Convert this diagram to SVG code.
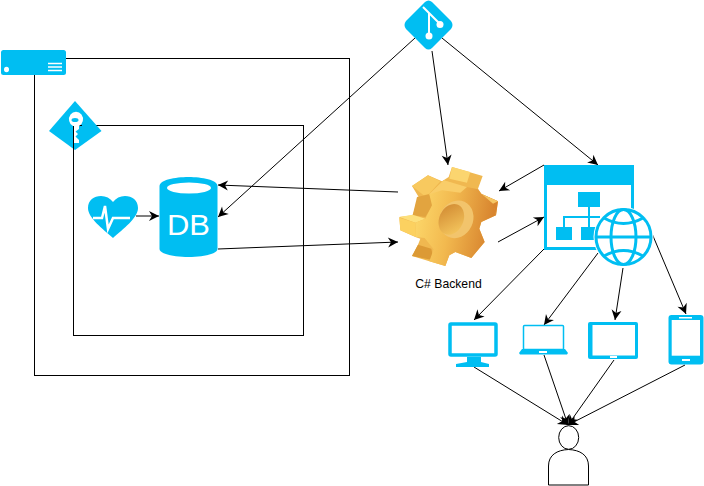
<svg xmlns="http://www.w3.org/2000/svg" width="704" height="486" viewBox="0 0 704 486">
<style>
.box{fill:none;stroke:#000;stroke-width:1}
.ic{fill:#00bef2}
.w{fill:#fff}
.wl{fill:none;stroke:#fff}
.gl{fill:none;stroke:#00bef2}
.c{fill:none;stroke:#000;stroke-width:1;marker-end:url(#a)}
text{font-family:"Liberation Sans",Arial,sans-serif}
</style>
<defs>
<marker id="a" markerUnits="userSpaceOnUse" markerWidth="14" markerHeight="12" refX="10" refY="5" orient="auto" viewBox="0 0 14 10" overflow="visible">
<path d="M0 0L10 5L0 10L3 5Z" fill="#000"/>
</marker>
<linearGradient id="gf" x1="0" y1="0" x2="1" y2="0.2"><stop offset="0" stop-color="#fedc6e"/><stop offset=".5" stop-color="#f2b94f"/><stop offset="1" stop-color="#d8852f"/></linearGradient>
<linearGradient id="gh" x1="0" y1="0" x2="1" y2="1"><stop offset="0" stop-color="#cf862f"/><stop offset="1" stop-color="#f8cc62"/></linearGradient>
</defs>
<g id="connectors">
<path class="c" d="M136 216H159"/>
<path class="c" d="M415 38L218 217"/>
<path class="c" d="M432 51L448 165"/>
<path class="c" d="M442 38L598 165"/>
<path class="c" d="M398 192L218 185"/>
<path class="c" d="M218 249L398 242"/>
<path class="c" d="M544 165L499 191"/>
<path class="c" d="M498 242L544 217"/>
<path class="c" d="M544 249L474 320"/>
<path class="c" d="M598 253L544 325"/>
<path class="c" d="M623 268L615 320"/>
<path class="c" d="M645 217L686 314"/>
<path class="c" d="M474 367L568 425"/>
<path class="c" d="M544 355L568 425"/>
<path class="c" d="M614 360L568 425"/>
<path class="c" d="M685 365L568 425"/>
</g>
<g id="server-box">
<rect class="box" x="34.500" y="58.500" width="315" height="317"/>
<rect class="ic" x="1" y="50" width="65" height="25" rx="2.500"/>
<ellipse class="w" cx="6.500" cy="69.500" rx="2.500" ry="2.800"/>
<path class="wl" stroke-width="1.500" d="M48 63.500H62M48 67H62M48 70.500H62"/>
</g>
<g id="key-box">
<rect class="box" x="73.500" y="125.500" width="230" height="210"/>
<path class="ic" d="M75 101L101.500 131L75 150L49 131Z"/>
<path class="box" d="M73.500 149V125.500H82"/>
<path class="w" d="M73 126A7 7.500 0 1 1 79 126V143L74 143V126Z"/>
<ellipse class="ic" cx="75" cy="120" rx="3.500" ry="2"/>
<path class="ic" d="M79 129L75.500 131.500L78 134L75.500 136.500L78 139L79 140Z"/>
</g>
<g id="heart">
<path class="ic" d="M113 238C103 229 88 218 88 208C88 200 94 196 101 196C106 196 110 198 113 202C116 198 120 196 125 196C132 196 138 200 138 208C138 218 123 229 113 238Z"/>
<path class="wl" stroke-width="2.500" d="M93 218H102L105 206L108 229L113 218H130"/>
</g>
<g id="db">
<path class="ic" d="M159.500 186C159.500 180 175 177 188.500 177S217.500 180 217.500 186V249C217.500 254 203 257 188.500 257S159.500 254 159.500 249Z"/>
<ellipse class="w" cx="189" cy="188" rx="22" ry="5.500"/>
<text x="167" y="234.500" font-size="29" fill="#fff" textLength="43" lengthAdjust="spacingAndGlyphs">DB</text>
</g>
<g id="git">
<path class="ic" d="M425 2Q428.500-1 432 2L451 21Q454 25 451 29L432 48Q428.500 51 425 48L406 29Q403 25 406 21Z"/>
<path class="wl" stroke-width="2" d="M423 7L440 24M429 13V36"/>
<circle class="w" cx="429" cy="36" r="3.500"/>
<circle class="w" cx="440" cy="24.500" r="3.500"/>
</g>
<g id="gear" transform="translate(392 162) scale(.3333)">
<path fill="#f0b850" d="M180 15L272 42L258 80L268 95L318 118L312 160L268 180L262 200L278 240L238 288L190 270L172 280L160 312L112 298L60 282L78 248L85 230L70 225L25 205L22 165L62 160L80 105L60 72L108 40L150 58L170 45Z"/>
<path fill="#fbd56f" d="M180 15L235 30L225 62L172 50Z"/>
<path fill="#f8c95f" d="M60 72L108 40L145 58L112 95L95 100Z"/>
<path fill="#e2a43f" d="M75 105L112 97L125 125L100 165L62 160Z"/>
<path fill="#fde07c" d="M22 165L62 158L100 170L70 182Z"/>
<path fill="#fcd160" d="M22 167L70 182L72 225L25 205Z"/>
<path fill="#dc9a35" d="M78 248L118 260L125 295L60 282Z"/>
<path fill="url(#gf)" d="M155 55L225 75L258 82L268 95L305 125L312 160L268 180L262 200L278 240L238 288L190 270L172 280L160 312L112 298L125 262L98 228L72 225L70 182L100 170L120 130L112 97Z"/>
<path fill="#f9cd69" d="M155 55L225 75L205 92L150 85L112 97Z"/>
<path fill="#d8842e" d="M270 97L318 118L312 160L303 125Z"/>
<path fill="#f6c765" d="M270 97L318 118L303 125Z"/>
<ellipse cx="193" cy="172" rx="50" ry="58" fill="#f2c46c" transform="rotate(25 193 172)"/>
<ellipse cx="178" cy="172" rx="36" ry="48" fill="url(#gh)" transform="rotate(25 178 172)"/>
</g>
<text x="448.500" y="288" font-size="12.200" fill="#000" text-anchor="middle">C# Backend</text>
<g id="site">
<rect x="545.500" y="166.500" width="87" height="82" fill="#fff" stroke="#00bef2" stroke-width="3"/>
<rect class="ic" x="544" y="165" width="90" height="20"/>
<rect class="ic" x="578" y="192" width="22" height="15"/>
<rect class="ic" x="556" y="227" width="16" height="13"/>
<rect class="ic" x="581" y="227" width="16" height="13"/>
<path class="gl" stroke-width="2" d="M589 207V227M564 227V217H600"/>
</g>
<g id="globe">
<circle cx="623.500" cy="237" r="30" fill="#fff"/>
<g class="gl" stroke-width="3">
<circle cx="623.500" cy="237" r="27.500"/>
<ellipse cx="623.500" cy="237" rx="12.500" ry="27.500"/>
<path d="M596 237H651M604 218Q623.500 229 643 218M604 256Q623.500 245 643 256"/>
</g>
</g>
<g id="monitor">
<rect x="450" y="324" width="46" height="31" rx="1" fill="#fff" stroke="#00bef2" stroke-width="3.500"/>
<path class="ic" d="M467 357H481V362L489 364V367H456V364L467 362Z"/>
</g>
<g id="laptop">
<rect x="523.500" y="325.500" width="40" height="24" rx="1" fill="#fff" stroke="#00bef2" stroke-width="1.500"/>
<path class="ic" d="M522 349H565L568 353L567 354.500H520L519 353Z"/>
<rect class="w" x="539" y="351" width="8" height="2"/>
</g>
<g id="tablet">
<rect class="ic" x="588" y="322" width="50" height="37" rx="2"/>
<rect class="w" x="592.500" y="325" width="42.500" height="30.500"/>
<rect class="w" x="610" y="356" width="7" height="2"/>
</g>
<g id="phone">
<rect class="ic" x="668.500" y="315" width="35" height="49.500" rx="3"/>
<rect class="w" x="671.700" y="320" width="28.300" height="35.700"/>
<rect class="w" x="679" y="317" width="13" height="1.500"/>
<rect class="w" x="682" y="359" width="8" height="2"/>
</g>
<g id="user" fill="#fff" stroke="#000" stroke-width="1">
<ellipse cx="568.700" cy="437.500" rx="10" ry="11.800"/>
<path d="M548.500 485V466C548.500 455 557 450 568.500 449.500C580 450 588.500 455 588.500 466V485Z"/>
</g>
</svg>
